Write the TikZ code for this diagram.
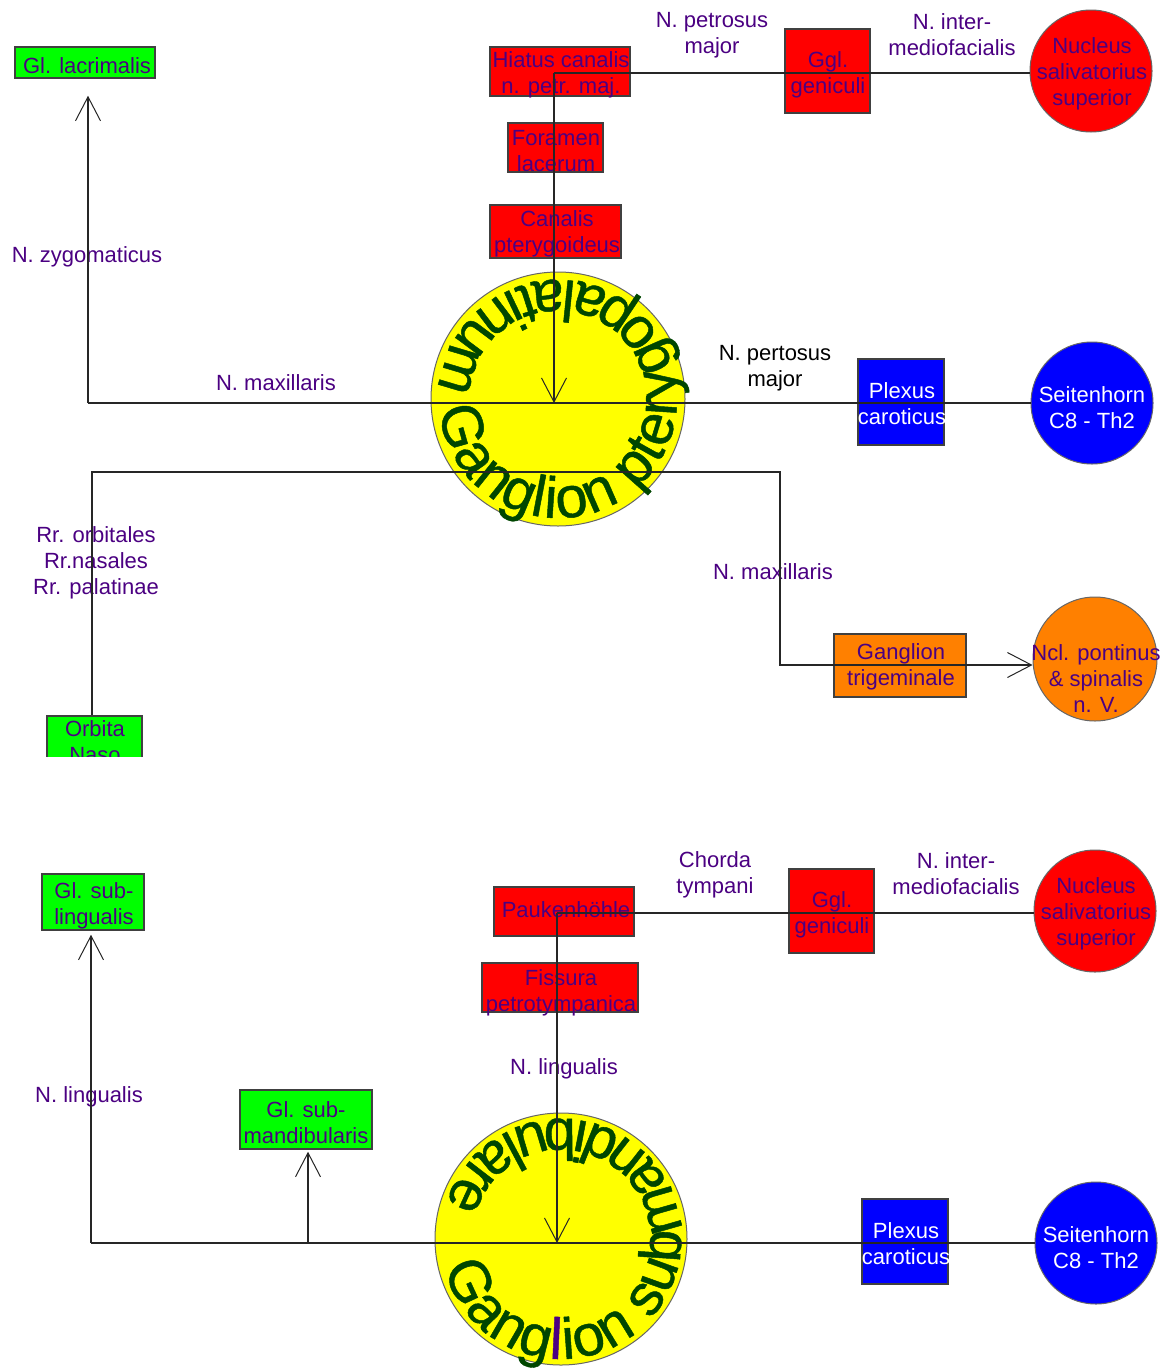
\documentclass[tikz,border=0pt]{standalone}
\usepackage{fontspec}
\setmainfont{Liberation Sans}
\newfontfamily\gfam{Liberation Sans}[FakeBold=0.8]
\usetikzlibrary{arrows.meta,decorations.text}
\definecolor{ind}{RGB}{75,0,130}
\definecolor{ggr}{RGB}{0,70,0}
\definecolor{bord}{RGB}{64,64,64}
\definecolor{gbox}{RGB}{0,255,0}
\definecolor{rbox}{RGB}{255,0,0}
\definecolor{bbox}{RGB}{0,0,255}
\definecolor{obox}{RGB}{255,128,0}
\definecolor{ybox}{RGB}{255,255,0}
\newcommand\labfont{\fontsize{22}{26}\selectfont}
\newcommand\gfnt{\gfam\fontsize{58}{58}\selectfont}
\begin{document}
\begin{tikzpicture}[x=1pt,y=1pt,
  box/.style={draw=bord, line width=1.5pt, inner sep=0pt, rectangle},
  circ/.style={draw=bord!80, line width=1pt, circle, inner sep=0pt},
  txt/.style={font=\labfont, text=ind, align=center, inner sep=0pt},
  wtxt/.style={txt, text=white},
  btxt/.style={txt, text=black},
  wire/.style={line width=1.2pt, draw=black!85},
  arr/.style={-{Straight Barb[length=24pt,width=25pt,line width=1pt]}},
  tbar/.style={line width=2.2pt, draw=black}]
\fill[white] (0,0) rectangle (1166,-1371);
\useasboundingbox (0,0) rectangle (1166,-1371);

% ---------------- top diagram ----------------
\node[box, fill=gbox, minimum width=140, minimum height=31] (lacr) at (85,-62.5) {};
\node[box, fill=rbox, minimum width=140, minimum height=49] (hiat) at (560,-71.5) {};
\node[box, fill=rbox, minimum width=95, minimum height=49] (fora) at (555.5,-147.5) {};
\node[box, fill=rbox, minimum width=131, minimum height=53] (cana) at (555.5,-231.5) {};
\node[box, fill=rbox, minimum width=85, minimum height=84] (ggc1) at (827.5,-71) {};
\node[circ, fill=rbox, minimum size=122] (nss1) at (1091,-71) {};
\node[box, fill=bbox, minimum width=86, minimum height=86] (plx1) at (901,-402) {};
\node[circ, fill=bbox, minimum size=122] (sh1) at (1092,-403) {};
\node[circ, fill=ybox, minimum size=254] (g1) at (558,-399) {};
\node[box, fill=obox, minimum width=132, minimum height=63] (trig) at (900,-665.5) {};
\node[circ, fill=obox, minimum size=124] (ncl) at (1095,-659) {};
\begin{scope}
\clip (0,0) rectangle (1166,-756);
\node[box, fill=gbox, minimum width=95, minimum height=50] (orb) at (94.5,-741) {};
\node[txt] (orbT) at (95,-742) {Orbita\\Naso};
\end{scope}

\node[txt] (lacrT) at (87,-66) {Gl. lacrimalis};
\node[txt] (hiatT) at (561,-75) {Hiatus canalis\\n. petr. maj.};
\node[txt] (foraT) at (556,-151) {Foramen\\lacerum};
\node[txt] (canaT) at (557,-233.5) {Canalis\\pterygoideus};
\node[txt] (ggc1T) at (828,-75) {Ggl.\\geniculi};
\node[txt] (nss1T) at (1092,-74) {Nucleus\\salivatorius\\superior};
\node[wtxt] (plx1T) at (902,-404) {Plexus\\caroticus};
\node[wtxt] (sh1T) at (1092,-408) {Seitenhorn\\C8 - Th2};
\node[txt] (trigT) at (901,-667) {Ganglion\\trigeminale};
\node[txt] (nclT) at (1096,-679) {Ncl. pontinus\\\& spinalis\\n. V.};

\path[decorate, decoration={text along path, text align=fit to path,
  text={|\gfnt\color{ggr}|Ganglion pterygopalatinum}}]
  (g1.center) ++(185:119) arc[start angle=185, end angle=535, radius=119];

\node[txt] (l1) at (712,-35) {N. petrosus\\major};
\node[txt] (l2) at (952,-34.5) {N. inter-\\mediofacialis};
\node[txt] (l3) at (87,-257) {N. zygomaticus};
\node[txt] (l4) at (276,-383) {N. maxillaris};
\node[btxt] (l5) at (775,-368.5) {N. pertosus\\major};
\node[txt] (l6) at (96,-562.5) {Rr. orbitales\\Rr.nasales\\Rr. palatinae};
\node[txt] (l7) at (773,-572) {N. maxillaris};

\coordinate (hub1) at (554,-73);
\coordinate (j1) at (554,-403);
\coordinate (c1) at (88,-403);
\coordinate (c2) at (92,-472);
\coordinate (c3) at (780,-472);
\coordinate (c4) at (780,-665);
\draw[wire] (hub1) -- (hub1 -| nss1.west);
\draw[wire, arr] (hub1) -- (j1);
\draw[tbar] (j1) ++(-14,0) -- ++(28,0);
\draw[wire, arr, shorten >=17pt] (c1) -- (c1 |- lacr.south);
\draw[wire] (c1) -- (c1 -| sh1.west);
\draw[wire, arr] (c2 |- orb.north) -- (c2) -- (c3) -- (c4) -- (c4 -| ncl.west);

% ---------------- bottom diagram ----------------
\node[box, fill=gbox, minimum width=102, minimum height=56] (subl) at (93,-902) {};
\node[box, fill=gbox, minimum width=132, minimum height=59] (subm) at (306,-1119.5) {};
\node[box, fill=rbox, minimum width=140, minimum height=49] (pauk) at (564,-911.5) {};
\node[box, fill=rbox, minimum width=156, minimum height=49] (fiss) at (560,-987.5) {};
\node[box, fill=rbox, minimum width=85, minimum height=84] (ggc2) at (831.5,-911) {};
\node[circ, fill=rbox, minimum size=122] (nss2) at (1095,-911) {};
\node[box, fill=bbox, minimum width=86, minimum height=85] (plx2) at (905,-1241.5) {};
\node[circ, fill=bbox, minimum size=122] (sh2) at (1096,-1243) {};
\node[circ, fill=ybox, minimum size=252] (g2) at (561,-1239) {};

\node[txt] (sublT) at (94,-906) {Gl. sub-\\lingualis};
\node[txt] (submT) at (306,-1123) {Gl. sub-\\mandibularis};
\node[txt] (paukT) at (566,-910) {Paukenhöhle};
\node[txt] (fissT) at (561,-992.5) {Fissura\\petrotympanica};
\node[txt] (ggc2T) at (832,-915) {Ggl.\\geniculi};
\node[txt] (nss2T) at (1096,-914) {Nucleus\\salivatorius\\superior};
\node[wtxt] (plx2T) at (906,-1244) {Plexus\\caroticus};
\node[wtxt] (sh2T) at (1096,-1248) {Seitenhorn\\C8 - Th2};

\path[decorate, decoration={text along path, text align=fit to path,
  text={|\gfnt\color{ggr}|Gang|\gfnt\color{ind}|l|\gfnt\color{ggr}|ion submandibulare}}]
  (g2.center) ++(194:120) arc[start angle=194, end angle=523, radius=120];

\node[txt] (m1) at (715,-875) {Chorda\\tympani};
\node[txt] (m2) at (956,-874) {N. inter-\\mediofacialis};
\node[txt] (m3) at (89,-1097) {N. lingualis};
\node[txt] (m4) at (564,-1069) {N. lingualis};

\coordinate (hub2) at (557,-913);
\coordinate (j2) at (557,-1243);
\coordinate (d1) at (91,-1243);
\coordinate (d2) at (308,-1243);
\draw[wire] (hub2) -- (hub2 -| nss2.west);
\draw[wire, arr] (hub2) -- (j2);
\draw[tbar] (j2) ++(-14,0) -- ++(28,0);
\draw[wire, arr, shorten >=4pt] (d1) -- (d1 |- subl.south);
\draw[wire] (d1) -- (d1 -| sh2.west);
\draw[wire, arr, shorten >=2pt] (d2) -- (d2 |- subm.south);
\end{tikzpicture}
\end{document}
